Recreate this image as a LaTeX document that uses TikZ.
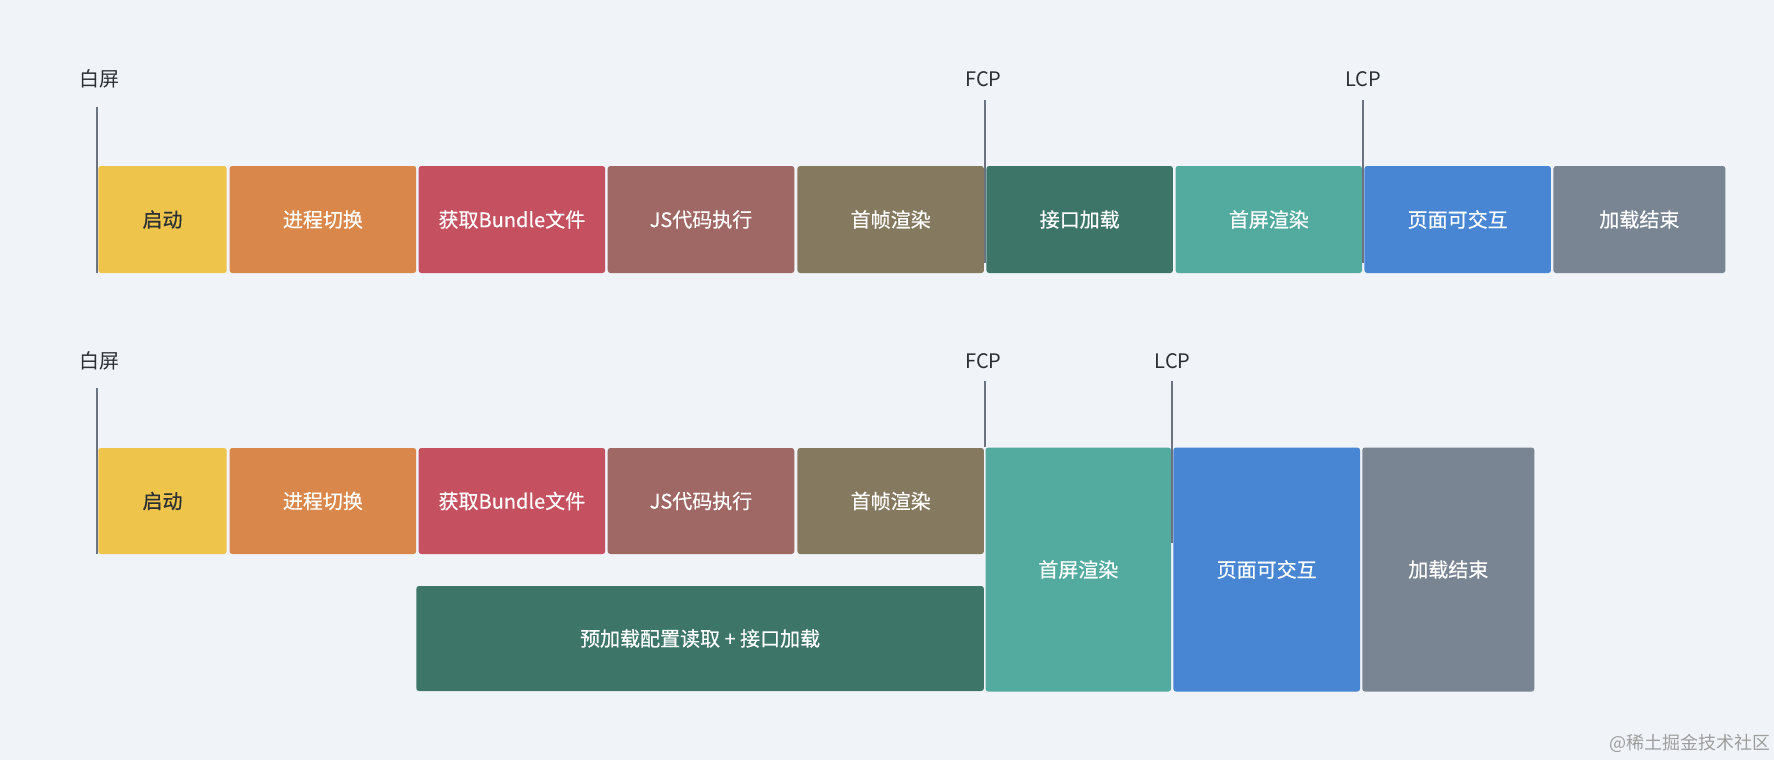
\documentclass[tikz,border=0pt]{standalone}
\usepackage{fontspec}
\setmainfont{Noto Sans CJK SC}
\newfontfamily\segfont{Noto Sans CJK SC}[RawFeature={embolden=0.5}]
\usepackage{tikz}
\usetikzlibrary{positioning}
\definecolor{bgc}{HTML}{F0F4F8}
\definecolor{cyel}{HTML}{EFC44B}
\definecolor{cora}{HTML}{D9874A}
\definecolor{cred}{HTML}{C5505F}
\definecolor{crose}{HTML}{A06865}
\definecolor{colive}{HTML}{857A60}
\definecolor{cdgreen}{HTML}{3D7668}
\definecolor{cteal}{HTML}{53AB9F}
\definecolor{cblue}{HTML}{4886D4}
\definecolor{cgray}{HTML}{7A8594}
\definecolor{tickgray}{HTML}{6B7380}
\definecolor{lbltext}{HTML}{2B3035}
\colorlet{wmgray}{black!38}

\begin{document}
\begin{tikzpicture}[x=0.75pt,y=-0.75pt,font=\fontsize{15}{18}\selectfont,seg/.style={rounded corners=2pt,text=white,font=\segfont\fontsize{15}{18}\selectfont,inner sep=0pt,minimum width=139.9pt,minimum height=80.25pt},low/.style={seg,minimum height=79.5pt},tall/.style={seg,minimum height=183pt},lbl/.style={text=lbltext,inner sep=1pt},tick/.style={draw=tickgray,line width=1.4pt},wm/.style={font=\fontsize{13.5}{16}\selectfont,text=wmgray}]
\fill[bgc] (0,0) rectangle (1774,760);
\useasboundingbox (0,0) rectangle (1774,760);
% first timeline
\node[seg,fill=cyel,text=lbltext,minimum width=96.3pt] (s1) at (162.5,219.5) {启动};
\node[seg,fill=cora] (s2) at (322.9,219.5) {进程切换};
\node[seg,fill=cred] (s3) at (511.9,219.5) {获取Bundle文件};
\node[seg,fill=crose] (s4) at (701,219.5) {JS代码执行};
\node[seg,fill=colive] (s5) at (890.7,219.5) {首帧渲染};
\node[seg,fill=cdgreen] (s6) at (1079.7,219.5) {接口加载};
\node[seg,fill=cteal] (s7) at (1268.8,219.5) {首屏渲染};
\node[seg,fill=cblue] (s8) at (1457.7,219.5) {页面可交互};
\node[seg,fill=cgray,minimum width=129pt] (s9) at (1639.4,219.5) {加载结束};
\node[lbl] (wA) at (99,79) {白屏};
\node[lbl] (fA) at (983.3,79) {FCP};
\node[lbl] (lA) at (1363.3,79) {LCP};
\coordinate (wAt) at (96.7,106.7);
\coordinate (fAt) at (985,100);
\coordinate (lAt) at (1363,100);
\draw[tick](wAt)--(wAt |- s1.south);
\draw[tick](fAt)--++(0,163);
\draw[tick](lAt)--++(0,163);
% second timeline, with preload
\node[low,fill=cyel,text=lbltext,minimum width=96.3pt] (t1) at (162.5,501) {启动};
\node[low,fill=cora] (t2) at (322.9,501) {进程切换};
\node[low,fill=cred] (t3) at (511.9,501) {获取Bundle文件};
\node[low,fill=crose] (t4) at (701,501) {JS代码执行};
\node[low,fill=colive] (t5) at (890.7,501) {首帧渲染};
\node[tall,fill=cteal,minimum width=139.1pt] (t6) at (1078.3,569.5) {首屏渲染};
\node[tall,fill=cblue,minimum width=140pt] (t7) at (1266.7,569.5) {页面可交互};
\node[tall,fill=cgray,minimum width=129pt] (t8) at (1448.3,569.5) {加载结束};
\node[seg,fill=cdgreen,minimum width=425.6pt,minimum height=78.75pt] (p) at (700.1,638.5) {预加载配置读取 + 接口加载};
\node[lbl] (wB) at (99,360.7) {白屏};
\node[lbl] (fB) at (983.3,360.7) {FCP};
\node[lbl] (lB) at (1172.7,360.7) {LCP};
\coordinate (wBt) at (96.7,388);
\coordinate (fBt) at (985,381);
\coordinate (lBt) at (1172.3,381);
\draw[tick](wBt)--(wBt |- t1.south);
\draw[tick](fBt)--(fBt |- t6.north);
\draw[tick](lBt)--++(0,162);
\node[wm] (wm) at (1690,743) {@稀土掘金技术社区};
\end{tikzpicture}
\end{document}
